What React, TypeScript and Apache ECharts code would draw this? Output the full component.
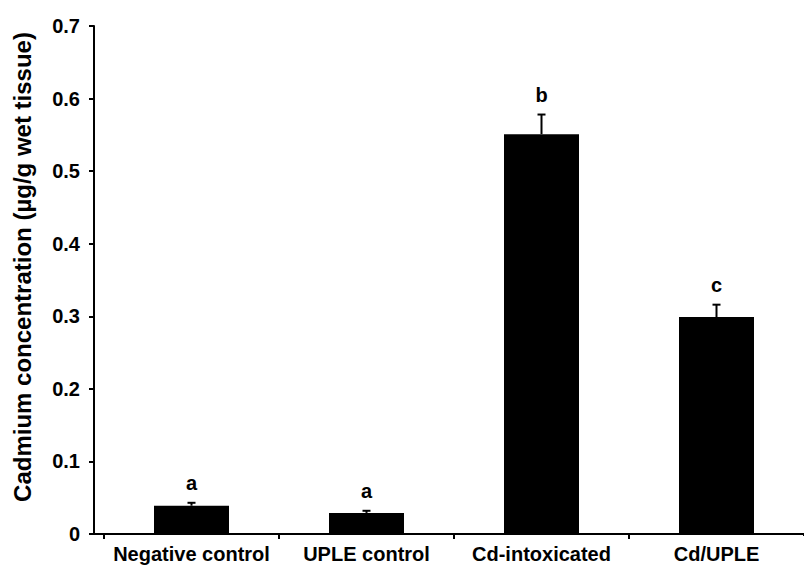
import React, { useEffect, useRef } from "react";
import * as echarts from "echarts";

const categories = ["Negative control", "UPLE control", "Cd-intoxicated", "Cd/UPLE"];
const means = [0.039, 0.029, 0.551, 0.299];
const errors = [0.004, 0.003, 0.027, 0.017];
const letters = ["a", "a", "b", "c"];
const yTicks = { min: 0, max: 0.7, interval: 0.1 };

const FONT = 'Arial, "Liberation Sans", sans-serif';

export default function App() {
  const ref = useRef<HTMLDivElement>(null);
  useEffect(() => {
    if (!ref.current) return;
    const chart = echarts.init(ref.current, null, { renderer: "svg" });
    const errData = categories.map((_, i) => [i, means[i], errors[i]]);
    chart.setOption({
      animation: false,
      backgroundColor: "#fff",
      grid: { left: 104, right: 0, top: 26, bottom: 31, containLabel: false },
      xAxis: {
        type: "category",
        data: categories,
        axisLine: { lineStyle: { color: "#000", width: 2 } },
        axisTick: { show: true, length: 5, lineStyle: { color: "#000", width: 2 } },
        axisLabel: {
          color: "#000",
          fontFamily: FONT,
          fontWeight: "bold",
          fontSize: 20,
          margin: 10,
          interval: 0,
        },
      },
      yAxis: {
        type: "value",
        min: yTicks.min,
        max: yTicks.max,
        interval: yTicks.interval,
        offset: 10,
        name: "Cadmium concentration (µg/g wet tissue)",
        nameLocation: "middle",
        nameGap: 60,
        nameRotate: 90,
        nameTextStyle: {
          color: "#000",
          fontFamily: FONT,
          fontWeight: "bold",
          fontSize: 24,
          padding: [0, 0, 0, 26],
        },
        splitLine: { show: false },
        axisLine: { show: true, lineStyle: { color: "#000", width: 2 } },
        axisTick: { show: true, length: 5, lineStyle: { color: "#000", width: 2 } },
        axisLabel: {
          color: "#000",
          fontFamily: FONT,
          fontWeight: "bold",
          fontSize: 20,
          margin: 14,
          formatter: (v: number) => (v === 0 ? "0" : v.toFixed(1)),
        },
      },
      graphic: [
        {
          type: "line",
          shape: { x1: 93, y1: 534, x2: 106, y2: 534 },
          style: { stroke: "#000", lineWidth: 2 },
          z: 100,
        },
        {
          type: "rect",
          shape: { x: 790, y: 536, width: 14, height: 8 },
          style: { fill: "#fff" },
          z: 100,
        },
      ],
      series: [
        {
          type: "bar",
          data: means,
          barWidth: 75,
          itemStyle: { color: "#000" },
          z: 2,
        },
        {
          type: "custom",
          data: errData,
          encode: { x: 0, y: 1 },
          z: 3,
          renderItem: (params: any, api: any) => {
            const i = api.value(0);
            const v = api.value(1);
            const e = api.value(2);
            const p0 = api.coord([i, v]);
            const p1 = api.coord([i, v + e]);
            const cap = 4;
            return {
              type: "group",
              children: [
                {
                  type: "line",
                  shape: { x1: p0[0], y1: p0[1], x2: p1[0], y2: p1[1] },
                  style: { stroke: "#000", lineWidth: 2 },
                },
                {
                  type: "line",
                  shape: { x1: p1[0] - cap, y1: p1[1], x2: p1[0] + cap, y2: p1[1] },
                  style: { stroke: "#000", lineWidth: 2 },
                },
                {
                  type: "text",
                  x: p1[0],
                  y: p1[1] - 20,
                  style: {
                    text: letters[params.dataIndex],
                    fill: "#000",
                    font: `bold 20px ${FONT}`,
                    align: "center",
                    verticalAlign: "middle",
                  },
                },
              ],
            };
          },
        },
      ],
    });
    return () => chart.dispose();
  }, []);
  return (
    <div
      ref={ref}
      style={{ position: "fixed", left: 0, top: 0, width: 804, height: 565, background: "#fff" }}
    />
  );
}
